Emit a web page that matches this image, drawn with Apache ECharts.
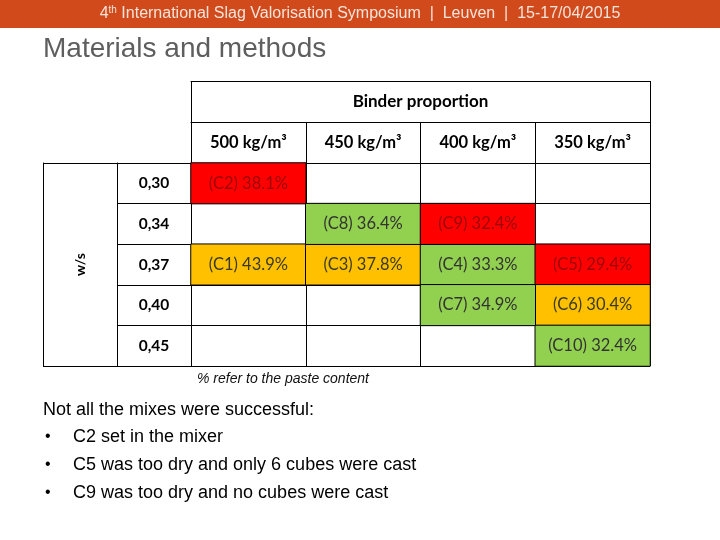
<!DOCTYPE html>
<html>
<head>
<meta charset="utf-8">
<script src="https://cdn.jsdelivr.net/npm/echarts@6/dist/echarts.min.js"></script>
<style>html,body{margin:0;padding:0;background:#fff;}#c{width:720px;height:540px;}</style>
</head>
<body>
<div id="c"></div>
<script>
// ---- data ----
const wsRatios = ['0,30', '0,34', '0,37', '0,40', '0,45'];
const binderLabels = ['500 kg/m³', '450 kg/m³', '400 kg/m³', '350 kg/m³'];
const mixCodes   = ['C1', 'C2', 'C3', 'C4', 'C5', 'C6', 'C7', 'C8', 'C9', 'C10'];
const mixRow     = [2, 0, 2, 2, 2, 3, 3, 1, 1, 4];
const mixCol     = [0, 0, 1, 2, 3, 3, 2, 1, 2, 3];
const pasteContent = [43.9, 38.1, 37.8, 33.3, 29.4, 30.4, 34.9, 36.4, 32.4, 32.4];
const mixStatus  = ['warn', 'fail', 'warn', 'ok', 'fail', 'warn', 'ok', 'ok', 'fail', 'ok'];
const notes = ['C2 set in the mixer', 'C5 was too dry and only 6 cubes were cast', 'C9 was too dry and no cubes were cast'];

const fillFor = { ok: '#92D050', warn: '#FFC000', fail: '#FF0000' };
const textFor = { ok: '#333333', warn: '#3a3a22', fail: '#9C0006' };

const cells = mixCodes.map((c, i) => ({
  value: [mixCol[i], mixRow[i], pasteContent[i]],
  name: c,
  itemStyle: { color: fillFor[mixStatus[i]] },
  label: { color: textFor[mixStatus[i]] }
}));

const tblFont = 'Lato';
const black = '#000';

const chart = echarts.init(document.getElementById('c'), null, { renderer: 'canvas' });
chart.setOption({
  backgroundColor: '#fff',
  animation: false,
  grid: { left: 191, top: 163, width: 459, height: 203, containLabel: false },
  xAxis: [
    {
      type: 'category', data: binderLabels, position: 'top',
      axisLine: { show: true, lineStyle: { color: black, width: 1 } },
      axisTick: { show: true, length: 41, interval: 0, lineStyle: { color: black } },
      axisLabel: { margin: 20, verticalAlign: 'middle', fontFamily: tblFont, fontWeight: 'bold', fontSize: 16.5, color: '#000' },
      splitLine: { show: true, interval: 0, lineStyle: { color: black, width: 1 } }
    },
    {
      type: 'category', data: ['Binder proportion'], position: 'top', offset: 41,
      axisLine: { show: true, lineStyle: { color: black, width: 1 } },
      axisTick: { show: true, length: 41, lineStyle: { color: black } },
      axisLabel: { margin: 20, verticalAlign: 'middle', fontFamily: tblFont, fontWeight: 'bold', fontSize: 17, color: '#000' },
      splitLine: { show: false }
    },
    {
      type: 'category', data: [''], position: 'top', offset: 82,
      axisLine: { show: true, lineStyle: { color: black, width: 1 } },
      axisTick: { show: false }, axisLabel: { show: false }, splitLine: { show: false }
    }
  ],
  yAxis: [
    {
      type: 'category', data: wsRatios, inverse: true, position: 'left',
      axisLine: { show: true, lineStyle: { color: black, width: 1 } },
      axisTick: { show: true, length: 74, interval: 0, lineStyle: { color: black } },
      axisLabel: { margin: 37, align: 'center', verticalAlign: 'middle', fontFamily: tblFont, fontWeight: 'bold', fontSize: 15.5, color: '#000' },
      splitLine: { show: true, interval: 0, lineStyle: { color: black, width: 1 } }
    },
    {
      type: 'category', data: ['w/s'], position: 'left', offset: 74,
      axisLine: { show: true, lineStyle: { color: black, width: 1 } },
      axisTick: { show: true, length: 74, lineStyle: { color: black } },
      axisLabel: { margin: 37, rotate: 90, align: 'center', verticalAlign: 'middle', fontFamily: tblFont, fontWeight: 'bold', fontSize: 14, color: '#000' },
      splitLine: { show: false }
    },
    {
      type: 'category', data: [''], position: 'left', offset: 148,
      axisLine: { show: true, lineStyle: { color: black, width: 1 } },
      axisTick: { show: false }, axisLabel: { show: false }, splitLine: { show: false }
    }
  ],
  series: [{
    type: 'heatmap',
    xAxisIndex: 0, yAxisIndex: 0,
    data: cells,
    itemStyle: { borderColor: black, borderWidth: 1 },
    label: {
      show: true, fontFamily: tblFont, fontSize: 16.5,
      formatter: p => '(' + p.name + ') ' + p.value[2].toFixed(1) + '%'
    },
    emphasis: { disabled: true }
  }],
  graphic: [
    { type: 'rect', left: 0, top: 0, shape: { width: 720, height: 28 }, style: { fill: '#D14A1B' }, silent: true },
    { type: 'text', style: {
        text: '4{sup|th} International Slag Valorisation Symposium  |  Leuven  |  15-17/04/2015',
        x: 360, y: 14, align: 'center', verticalAlign: 'middle',
        fontFamily: 'Liberation Sans', fontSize: 16, fill: '#F6E3DA',
        rich: { sup: { fontSize: 10, fontFamily: 'Liberation Sans', fill: '#F6E3DA', padding: [0, 0, 7, 0] } }
      } },
    { type: 'text', style: { text: 'Materials and methods', x: 43, y: 49, verticalAlign: 'middle',
        fontFamily: 'Liberation Sans', fontSize: 28, fill: '#5E5E5E' } },
    { type: 'text', style: { text: '% refer to the paste content', x: 283, y: 379, align: 'center', verticalAlign: 'middle',
        fontFamily: 'Liberation Sans', fontStyle: 'italic', fontSize: 14, fill: '#111' } },
    { type: 'text', style: { text: 'Not all the mixes were successful:', x: 43, y: 410, verticalAlign: 'middle',
        fontFamily: 'Liberation Sans', fontSize: 18, fill: '#000' } },
    ...notes.flatMap((t, i) => [
      { type: 'text', style: { text: '•', x: 45, y: 437 + i * 28, verticalAlign: 'middle', fontFamily: 'Liberation Sans', fontSize: 16, fill: '#000' } },
      { type: 'text', style: { text: t, x: 73, y: 437 + i * 28, verticalAlign: 'middle', fontFamily: 'Liberation Sans', fontSize: 18, fill: '#000' } }
    ])
  ]
});
</script>
</body>
</html>
